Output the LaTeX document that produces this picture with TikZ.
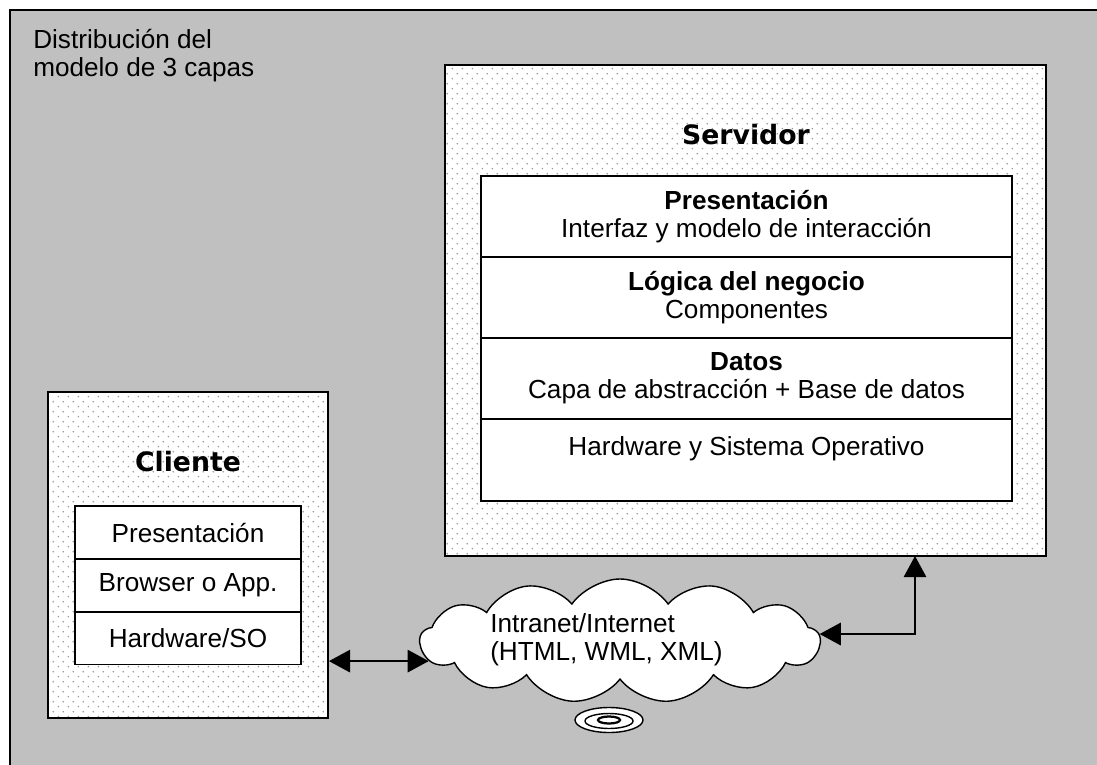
\documentclass[tikz,border=0pt]{standalone}
\usepackage{fontspec}
\setmainfont{Liberation Sans}
\newfontfamily\headfont{DejaVu Sans}
\usetikzlibrary{positioning,shapes.symbols,patterns,arrows.meta}
\definecolor{bg}{HTML}{C0C0C0}

\pgfdeclarepatternformonly{puntos}{\pgfqpoint{-1pt}{-1pt}}{\pgfqpoint{6pt}{6pt}}{\pgfqpoint{7pt}{7pt}}{%
	\pgfpathcircle{\pgfqpoint{0pt}{0pt}}{0.6pt}
	\pgfpathcircle{\pgfqpoint{3.5pt}{3.5pt}}{0.6pt}
	\pgfusepath{fill}
}

\tikzset{
	box/.style={draw, line width=1.4pt, preaction={fill=white}, pattern=puntos, pattern color=gray!80, inner sep=0pt},
	row/.style={draw, line width=1.4pt, fill=white, align=center, inner sep=0pt, outer sep=0pt},
	link/.style={line width=1pt, {Triangle[length=15pt,width=16pt]}-{Triangle[length=15pt,width=16pt]}},
	head/.style={font=\headfont\fontsize{19}{22}\selectfont\bfseries},
}

\begin{document}
\begin{tikzpicture}[x=0.25mm,y=-0.25mm,font=\fontsize{18.6}{20}\selectfont]
		\useasboundingbox (0,0) rectangle (1097,765);
		\fill [bg] (10,10) rectangle (1097,765);
		\draw [line width=1.4pt] (10,765) -- (10,10) -- (1097,10);
		\node [anchor=north west, align=left, inner sep=0pt] (titulo) at (33,29) {Distribución del\\modelo de 3 capas};

		% servidor
		\node [box, minimum width=150.25mm, minimum height=122.75mm] (srv) at (745.5,310.5) {};
		\node [head] (srvTit) at (746,135) {Servidor};
		\node [row, minimum width=132.75mm, minimum height=20.25mm] (srvPres) at (746.5,216.5) {\textbf{Presentación}\\Interfaz y modelo de interacción};
		\node [row, minimum width=132.75mm, minimum height=20.25mm, below=0pt of srvPres] (srvLog) {\textbf{Lógica del negocio}\\Componentes};
		\node [row, minimum width=132.75mm, minimum height=20.25mm, below=0pt of srvLog] (srvDat) {\textbf{Datos}\\Capa de abstracción + Base de datos};
		\node [row, minimum width=132.75mm, minimum height=20.5mm, below=0pt of srvDat] (srvHw) {Hardware y Sistema Operativo\\~};

		% cliente
		\node [box, minimum width=70mm, minimum height=81.5mm] (cli) at (188,555) {};
		\node [head] (cliTit) at (188,462) {Cliente};
		\node [row, minimum width=56.5mm, minimum height=13.2mm] (cliPres) at (188,532.5) {Presentación};
		\node [row, minimum width=56.5mm, minimum height=13.2mm, below=0pt of cliPres] (cliBrw) {Browser o App.};
		\node [row, minimum width=56.5mm, minimum height=13.2mm, below=0pt of cliBrw] (cliHw) {Hardware/SO};

		% red
		\node [cloud, draw, fill=white, line width=1pt, cloud puffs=13, cloud puff arc=110, aspect=3.2, minimum width=100mm, minimum height=31mm] (net) at (620,641) {};
		\draw [line width=1pt, fill=white] (609,720) ellipse (34 and 12.5);
		\draw [line width=1pt] (609,721) ellipse (24 and 7.5);
		\draw [line width=1.6pt] (609,720) ellipse (11 and 3.5);
		\node [anchor=west, align=left, inner sep=0pt] (netTxt) at (490,640) {Intranet/Internet\\(HTML, WML, XML)};

		% enlaces
		\coordinate (srvIn) at (915,556);
		\draw [link] (cli.east |- net.186) -- (net.186);
		\draw [link] (net.2) -| (srvIn);
\end{tikzpicture}
\end{document}
